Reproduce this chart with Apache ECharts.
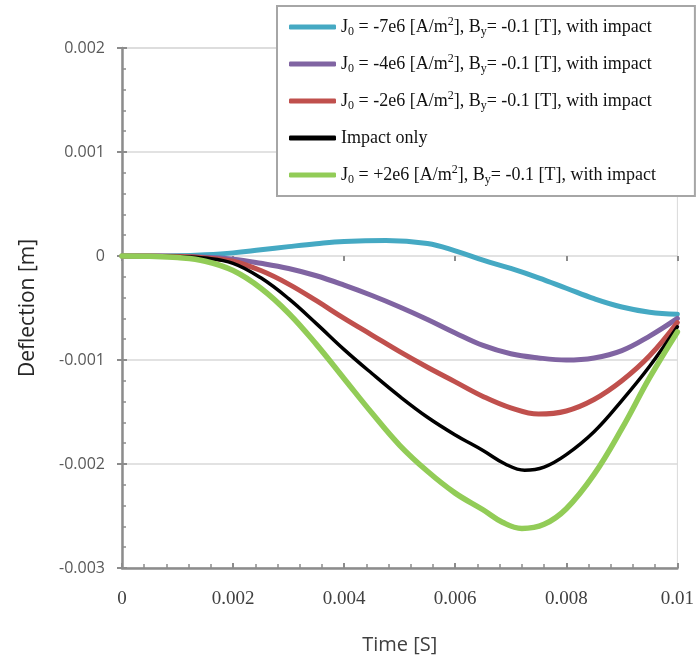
<!DOCTYPE html>
<html>
<head>
<meta charset="utf-8">
<script src="https://cdn.jsdelivr.net/npm/echarts@6/dist/echarts.min.js"></script>
<style>
html,body{margin:0;padding:0;background:#fff;}
#chart{width:697px;height:661px;}
</style>
</head>
<body>
<div id="chart"></div>
<script>
// ---- data (time in s, deflection in m) ----
const seriesNames = [
  'J{sub|0} = -7e6 [A/m{sup|2}], B{sub|y}= -0.1 [T], with impact',
  'J{sub|0} = -4e6 [A/m{sup|2}], B{sub|y}= -0.1 [T], with impact',
  'J{sub|0} = -2e6 [A/m{sup|2}], B{sub|y}= -0.1 [T], with impact',
  'Impact only',
  'J{sub|0} = +2e6 [A/m{sup|2}], B{sub|y}= -0.1 [T], with impact'
];
// J0 = -7e6
const tMinus7e6 = [0, 0.0005, 0.001, 0.0015, 0.002, 0.0025, 0.003, 0.0035, 0.004, 0.00475,
                   0.0055, 0.006, 0.0065, 0.007, 0.0075, 0.008, 0.0085, 0.009, 0.0095, 0.01];
const jMinus7e6 = [0, 0, 0.000002, 0.000012, 0.00003, 0.00006, 0.00009, 0.000118, 0.00014, 0.00015,
                   0.00012, 0.00005, -0.00004, -0.00012, -0.00021, -0.00031, -0.00041, -0.00049, -0.00054, -0.00056];
// J0 = -4e6
const tMinus4e6 = [0, 0.0005, 0.001, 0.0015, 0.002, 0.0025, 0.003, 0.0035, 0.004, 0.0045, 0.005,
                   0.0055, 0.006, 0.0065, 0.007, 0.0075, 0.008, 0.0085, 0.009, 0.0095, 0.01];
const jMinus4e6 = [0, 0, -0.000003, -0.000012, -0.00003, -0.00007, -0.00012, -0.00019, -0.00028, -0.00038, -0.00049,
                   -0.00061, -0.00074, -0.00086, -0.00094, -0.00098, -0.001, -0.00098, -0.00091, -0.00077, -0.0006];
// J0 = -2e6
const tMinus2e6 = [0, 0.0005, 0.001, 0.0015, 0.002, 0.0025, 0.003, 0.0035, 0.004, 0.0045, 0.005,
                   0.0055, 0.006, 0.0065, 0.007, 0.0075, 0.008, 0.0085, 0.009, 0.0095, 0.01];
const jMinus2e6 = [0, 0, -0.000004, -0.000018, -0.00005, -0.00014, -0.00027, -0.00043, -0.0006, -0.00076, -0.00092,
                   -0.00107, -0.00121, -0.00135, -0.00146, -0.00152, -0.00149, -0.00138, -0.0012, -0.00096, -0.00064];
// Impact only
const tImpact = [0, 0.0005, 0.001, 0.0015, 0.002, 0.0025, 0.003, 0.0035, 0.004, 0.0045, 0.005,
                 0.0055, 0.006, 0.0065, 0.0069, 0.00725, 0.0076, 0.008, 0.0085, 0.009, 0.0095, 0.01];
const impactOnly = [0, 0, -0.000005, -0.00002, -0.00007, -0.00021, -0.00041, -0.00065, -0.0009, -0.00113, -0.00135,
                    -0.00155, -0.00172, -0.00187, -0.002, -0.00206, -0.00203, -0.00191, -0.00169, -0.00139, -0.00106, -0.00068];
// J0 = +2e6
const tPlus2e6 = [0, 0.0005, 0.001, 0.0015, 0.002, 0.0025, 0.003, 0.0035, 0.004, 0.0045, 0.005,
                  0.0055, 0.006, 0.0065, 0.00685, 0.0072, 0.0076, 0.008, 0.0085, 0.009, 0.0095, 0.01];
const jPlus2e6 = [0, -0.000003, -0.000015, -0.00005, -0.00014, -0.00031, -0.00055, -0.00085, -0.00118, -0.00151, -0.00182,
                  -0.00207, -0.00228, -0.00244, -0.00256, -0.00262, -0.00258, -0.00243, -0.0021, -0.00166, -0.00117, -0.00073];

const seriesColors = ['#45a9c3', '#8064a2', '#c0504d', '#000000', '#92cc57'];
const seriesWidths = [5, 5, 5, 3.5, 5.5];

const allTimes = [tMinus7e6, tMinus4e6, tMinus2e6, tImpact, tPlus2e6];
const allValues = [jMinus7e6, jMinus4e6, jMinus2e6, impactOnly, jPlus2e6];

const axisGray = '#8c8c8c';

const chart = echarts.init(document.getElementById('chart'), null, {renderer: 'canvas'});
const option = {
  animation: false,
  backgroundColor: '#ffffff',
  grid: {left: 122, right: 14, top: 48, bottom: 93, show: true, borderColor: '#d9d9d9', borderWidth: 1},
  legend: {
    orient: 'vertical',
    left: 277, top: 6,
    padding: [10, 39, 10, 12],
    borderColor: '#a6a6a6', borderWidth: 2,
    backgroundColor: '#ffffff',
    itemWidth: 47, itemHeight: 5, itemGap: 15,
    icon: 'roundRect',
    data: seriesNames,
    textStyle: {
      fontFamily: 'Liberation Serif', fontSize: 18, color: '#111', lineHeight: 22,
      rich: {
        sub: {fontFamily: 'Liberation Serif', fontSize: 12, lineHeight: 11, verticalAlign: 'bottom', color: '#111'},
        sup: {fontFamily: 'Liberation Serif', fontSize: 12, lineHeight: 11, verticalAlign: 'top', color: '#111'}
      }
    }
  },
  xAxis: [{
    type: 'value', min: 0, max: 0.01, interval: 0.002,
    name: 'Time [S]', nameLocation: 'middle', nameGap: 67,
    nameTextStyle: {fontFamily: 'Open Sans', fontSize: 20, color: '#404040'},
    axisLine: {show: true, onZero: false, lineStyle: {color: axisGray, width: 2.5}},
    axisTick: {show: true, inside: true, length: 5, lineStyle: {color: axisGray, width: 2}},
    minorTick: {show: true, splitNumber: 5, length: 4, lineStyle: {color: axisGray, width: 1.5}},
    axisLabel: {margin: 22, fontFamily: 'Liberation Serif', fontSize: 19, color: '#404040'},
    splitLine: {show: false}
  }, {
    type: 'value', min: 0, max: 0.01, interval: 0.002, position: 'bottom',
    axisLine: {show: false},
    axisTick: {show: true, inside: false, length: 5, lineStyle: {color: axisGray, width: 2}},
    axisLabel: {show: false}, splitLine: {show: false}
  }],
  yAxis: [{
    type: 'value', min: -0.003, max: 0.002, interval: 0.001,
    name: 'Deflection [m]', nameLocation: 'middle', nameGap: 83,
    nameTextStyle: {fontFamily: 'Open Sans', fontSize: 21, color: '#262626'},
    axisLine: {show: true, onZero: false, lineStyle: {color: axisGray, width: 2.5}},
    axisTick: {show: true, inside: true, length: 5, lineStyle: {color: axisGray, width: 2}},
    minorTick: {show: true, splitNumber: 5, length: 4, lineStyle: {color: axisGray, width: 1.5}},
    axisLabel: {margin: 17, fontFamily: 'Open Sans', fontSize: 16, color: '#595959'},
    splitLine: {show: true, lineStyle: {color: '#d9d9d9', width: 1.5}}
  }, {
    type: 'value', min: -0.003, max: 0.002, interval: 0.001, position: 'left',
    axisLine: {show: false},
    axisTick: {show: true, inside: false, length: 5, lineStyle: {color: axisGray, width: 2}},
    axisLabel: {show: false}, splitLine: {show: false}
  }],
  series: seriesNames.map((name, i) => ({
    name: name,
    type: 'line',
    xAxisIndex: 0, yAxisIndex: 0,
    smooth: 0.4,
    showSymbol: false,
    symbol: 'none',
    data: allTimes[i].map((t, k) => [t, allValues[i][k]]),
    itemStyle: {color: seriesColors[i]},
    lineStyle: {color: seriesColors[i], width: seriesWidths[i], cap: 'round', join: 'round'}
  }))
};
chart.setOption(option);
</script>
</body>
</html>
